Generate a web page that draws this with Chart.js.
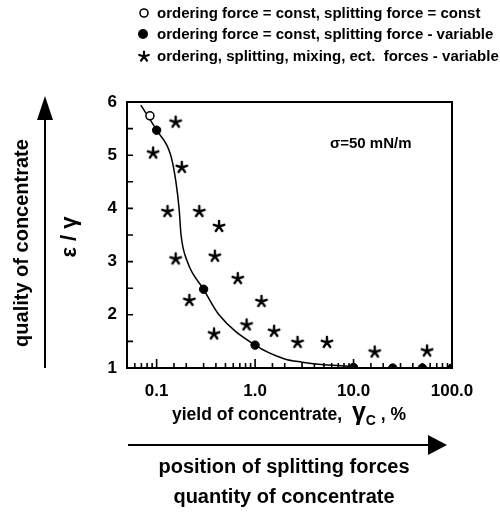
<!DOCTYPE html>
<html>
<head>
<meta charset="utf-8">
<script src="https://cdn.jsdelivr.net/npm/chart.js@4"></script>
<style>
  body { margin: 0; background: #fff; }
  #wrap { width: 500px; height: 513px; }
</style>
</head>
<body>
<div id="wrap"><canvas id="myChart" width="500" height="513"></canvas></div>
<script>
// values
var curveX = [0.069, 0.1, 0.139, 0.157, 0.169, 0.177, 0.205, 0.3, 0.43, 1.0, 2.0, 3.0, 5.0, 10.0];
var curveY = [5.94, 5.47, 5.0, 4.5, 4.0, 3.5, 3.0, 2.48, 2.0, 1.43, 1.17, 1.11, 1.06, 1.03];

var openX = [0.0855];
var openY = [5.74];

var filledX = [0.1, 0.3, 1.0, 10.0, 25.0, 50.0, 100.0];
var filledY = [5.47, 2.48, 1.43, 1.01, 1.0, 1.0, 1.0];

var starX = [0.156, 0.092, 0.18, 0.129, 0.271, 0.43, 0.156, 0.39, 0.667, 0.215, 1.16, 0.383, 0.82, 1.56, 2.7, 5.36, 16.4, 55.8];
var starY = [5.63, 5.05, 4.78, 3.95, 3.95, 3.67, 3.06, 3.11, 2.69, 2.28, 2.26, 1.65, 1.82, 1.70, 1.49, 1.49, 1.31, 1.33];

var xTickLabels = {"0.1": "0.1", "1": "1.0", "10": "10.0", "100": "100.0"};
var yTickLabels = ["1", "2", "3", "4", "5", "6"];

var legendTexts = [
  "ordering force = const, splitting force = const",
  "ordering force = const, splitting force - variable",
  "ordering, splitting, mixing, ect.  forces - variable"
];

var FONT = "Arial, 'Liberation Sans', sans-serif";

function toPoints(xs, ys) {
  let pts = [];
  for (let i = 0; i < xs.length; i++) pts.push({x: xs[i], y: ys[i]});
  return pts;
}

// five-armed asterisk like the one in the figure
function drawStar(c, cx, cy, r, w) {
  c.save();
  c.strokeStyle = "#000";
  c.lineWidth = w;
  c.lineCap = "round";
  c.beginPath();
  for (let k = 0; k < 5; k++) {
    let a = (-90 + k * 72) * Math.PI / 180;
    c.moveTo(cx, cy);
    c.lineTo(cx + r * Math.cos(a), cy + r * Math.sin(a));
  }
  c.stroke();
  c.restore();
}
var starImg = document.createElement("canvas");
starImg.width = 16; starImg.height = 16;
drawStar(starImg.getContext("2d"), 8, 8.5, 5.5, 2.4);

function arrowHead(c, x, y, dir) {
  c.beginPath();
  if (dir == "up") {
    c.moveTo(x, y); c.lineTo(x - 8, y + 24); c.lineTo(x + 8, y + 24);
  } else {
    c.moveTo(x, y); c.lineTo(x - 19, y - 10); c.lineTo(x - 19, y + 10);
  }
  c.closePath();
  c.fill();
}

var decorations = {
  id: "decorations",
  beforeDatasetsDraw: function(chart) {
    let c = chart.ctx, a = chart.chartArea;
    let xs = chart.scales.x, ys = chart.scales.y;
    c.save();
    c.strokeStyle = "#000";
    c.lineWidth = 2;
    c.strokeRect(a.left, a.top, a.right - a.left, a.bottom - a.top);
    c.lineWidth = 1.6;
    c.beginPath();
    xs.ticks.forEach(function(t) {
      let p = xs.getPixelForValue(t.value);
      if (p <= a.left + 1 || p >= a.right - 1) return;
      let lg = Math.log10(t.value);
      let len = Math.abs(lg - Math.round(lg)) < 1e-6 ? 9 : 5;
      c.moveTo(p, a.bottom); c.lineTo(p, a.bottom - len);
    });
    ys.ticks.forEach(function(t) {
      let p = ys.getPixelForValue(t.value);
      if (p <= a.top + 1 || p >= a.bottom - 1) return;
      c.moveTo(a.left, p); c.lineTo(a.left + 6, p);
    });
    c.stroke();
    c.restore();
  },
  afterDraw: function(chart) {
    let c = chart.ctx;
    c.save();
    c.fillStyle = "#000";
    c.strokeStyle = "#000";

    // legend
    c.font = "bold 15px " + FONT;
    c.textBaseline = "middle";
    c.textAlign = "left";
    let ly = [13, 34, 56];
    c.lineWidth = 1.6;
    c.beginPath(); c.arc(144, ly[0], 4, 0, 2 * Math.PI); c.stroke();
    c.beginPath(); c.arc(143, ly[1], 5, 0, 2 * Math.PI); c.fill();
    drawStar(c, 144, ly[2] + 0.5, 5, 2.2);
    for (let i = 0; i < legendTexts.length; i++) c.fillText(legendTexts[i], 157, ly[i] + 1);

    // sigma note
    c.font = "bold 15px " + FONT;
    c.fillText("\u03c3=50 mN/m", 330, 144);

    // y titles
    c.save();
    c.translate(70, 237);
    c.rotate(-Math.PI / 2);
    c.textAlign = "center";
    c.font = "bold 22px " + FONT;
    c.fillText("\u03b5 / \u03b3", 0, 0);
    c.restore();

    c.save();
    c.translate(22, 243);
    c.rotate(-Math.PI / 2);
    c.textAlign = "center";
    c.font = "bold 20px " + FONT;
    c.fillText("quality of concentrate", 0, 0);
    c.restore();

    // vertical arrow
    c.lineWidth = 2;
    c.beginPath(); c.moveTo(45, 368); c.lineTo(45, 110); c.stroke();
    arrowHead(c, 45, 96, "up");

    // x title with gamma and subscript
    c.textBaseline = "alphabetic";
    let x = 172, by = 420;
    c.font = "bold 17.5px " + FONT;
    let s1 = "yield of concentrate,  ";
    c.fillText(s1, x, by); x += c.measureText(s1).width;
    c.font = "bold 25px " + FONT;
    c.fillText("\u03b3", x, by); x += c.measureText("\u03b3").width;
    c.font = "bold 14px " + FONT;
    c.fillText("C", x, by + 5); x += c.measureText("C").width;
    c.font = "bold 17.5px " + FONT;
    c.fillText(" , %", x, by);

    // horizontal arrow
    c.lineWidth = 2;
    c.beginPath(); c.moveTo(128, 445); c.lineTo(432, 445); c.stroke();
    arrowHead(c, 447, 445, "right");

    c.textAlign = "center";
    c.textBaseline = "middle";
    c.font = "bold 20px " + FONT;
    c.fillText("position of splitting forces", 284, 467);
    c.fillText("quantity of concentrate", 284, 497);
    c.restore();
  }
};

var ctx = document.getElementById("myChart").getContext("2d");
var myChart = new Chart(ctx, {
  type: "scatter",
  data: {
    datasets: [
      {
        label: "curve",
        data: toPoints(curveX, curveY),
        showLine: true,
        cubicInterpolationMode: "monotone",
        borderColor: "#000",
        borderWidth: 1.5,
        pointRadius: 0,
        order: 4
      },
      {
        label: "const",
        data: toPoints(openX, openY),
        pointRadius: 4,
        pointBackgroundColor: "#fff",
        pointBorderColor: "#000",
        pointBorderWidth: 1.5,
        order: 1
      },
      {
        label: "splitting variable",
        data: toPoints(filledX, filledY),
        pointRadius: 4.2,
        pointBackgroundColor: "#000",
        pointBorderColor: "#000",
        order: 2
      },
      {
        label: "all variable",
        data: toPoints(starX, starY),
        pointStyle: starImg,
        order: 3
      }
    ]
  },
  options: {
    responsive: false,
    animation: false,
    events: [],
    layout: { padding: { top: 102, right: 48, left: 0, bottom: 0 } },
    plugins: { legend: { display: false }, tooltip: { enabled: false } },
    scales: {
      x: {
        type: "logarithmic",
        min: 0.05,
        max: 100,
        afterFit: function(s) { s.height = 145; },
        grid: { display: false, drawTicks: false },
        border: { display: false },
        ticks: {
          autoSkip: false,
          maxRotation: 0,
          padding: 13,
          color: "#000",
          font: { family: FONT, size: 17, weight: "bold" },
          callback: function(v) {
            let k = String(+v.toPrecision(6));
            return xTickLabels[k] || "";
          }
        }
      },
      y: {
        min: 1,
        max: 6,
        afterFit: function(s) { s.width = 127; },
        grid: { display: false, drawTicks: false },
        border: { display: false },
        ticks: {
          stepSize: 0.5,
          padding: 10,
          color: "#000",
          font: { family: FONT, size: 17, weight: "bold" },
          callback: function(v) {
            return Number.isInteger(v) && yTickLabels.indexOf(String(v)) >= 0 ? String(v) : "";
          }
        }
      }
    }
  },
  plugins: [decorations]
});
</script>
</body>
</html>
